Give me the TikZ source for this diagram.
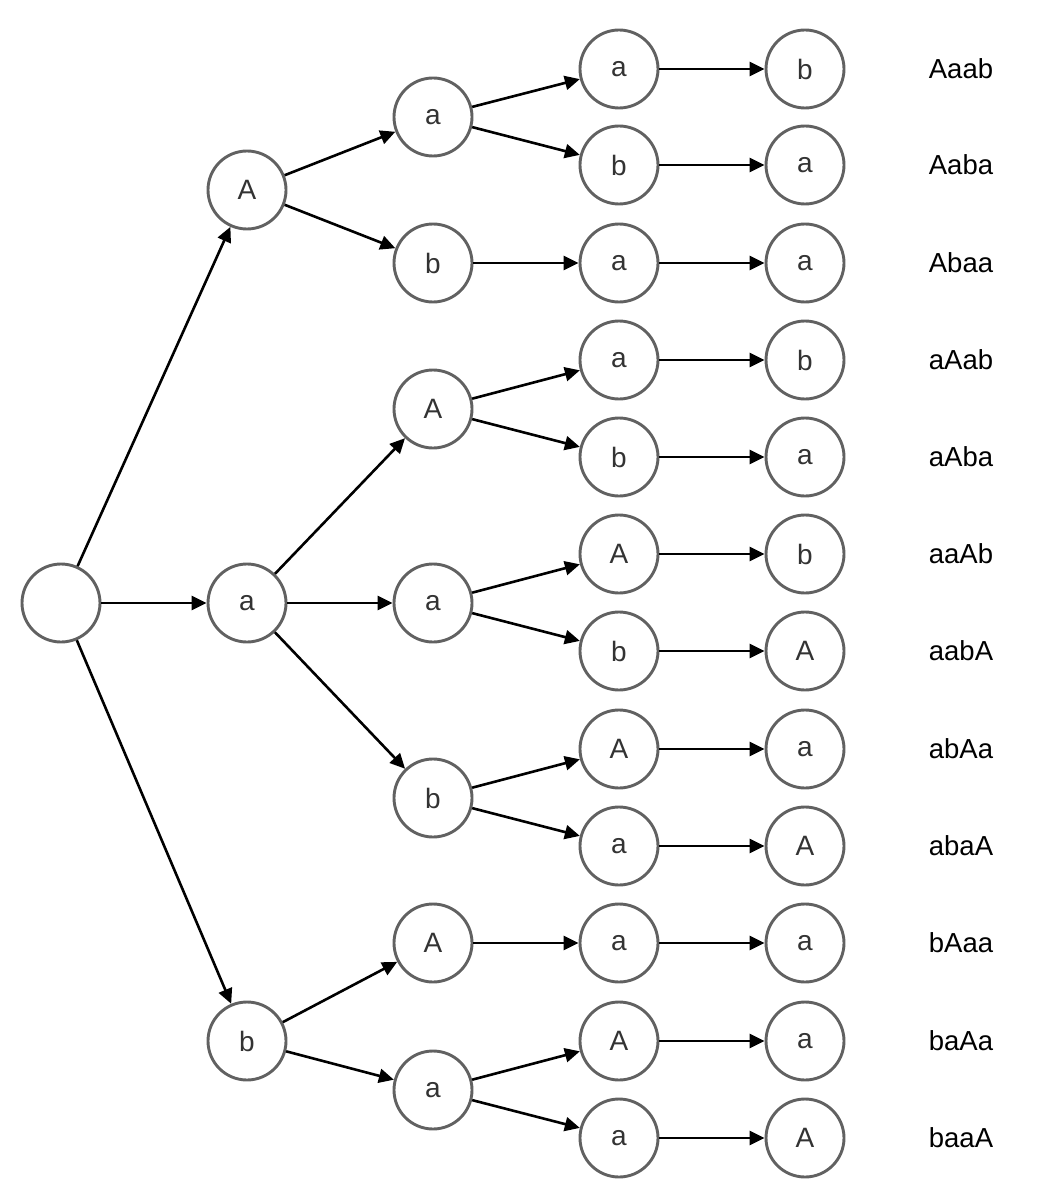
\documentclass[tikz,border=0pt]{standalone}
\usepackage{fontspec}
\setmainfont{Liberation Sans}
\usetikzlibrary{arrows.meta}
\begin{document}
\begin{tikzpicture}[x=1pt,y=-1pt,
  st/.style={circle,draw=black!62,line width=2.9pt,minimum size=78pt,inner sep=0pt,
    font=\fontsize{28}{30}\selectfont,text=black!80},
  word/.style={font=\fontsize{27.5}{30}\selectfont,anchor=center},
  edge/.style={line width=2.6pt,-{Triangle[length=15pt,width=14pt]}}]
\useasboundingbox (0,0) rectangle (1058,1190);
% root and first level
\node[st] (r) at (61,603) {};
\node[st] (A1) at (247,190) {A};
\node[st] (a1) at (247,603) {a};
\node[st] (b1) at (247,1041) {b};
% second level
\node[st] (n1) at (433,117) {a};
\node[st] (n2) at (433,263) {b};
\node[st] (n3) at (433,409) {A};
\node[st] (n4) at (433,603) {a};
\node[st] (n5) at (433,798) {b};
\node[st] (n6) at (433,943) {A};
\node[st] (n7) at (433,1090) {a};
% third and fourth levels with the resulting words
\foreach \i/\y/\p/\q/\w in {1/69/a/b/Aaab,2/165/b/a/Aaba,3/263/a/a/Abaa,4/360/a/b/aAab,
  5/457/b/a/aAba,6/554/A/b/aaAb,7/651/b/A/aabA,8/749/A/a/abAa,9/846/a/A/abaA,
  10/943/a/a/bAaa,11/1041/A/a/baAa,12/1138/a/A/baaA}{
  \node[st] (p\i) at (619,\y) {\p};
  \node[st] (q\i) at (805,\y) {\q};
  \node[word] (w\i) at (961,\y) {\w};
  \draw[edge] (p\i) -- (q\i);
}
\draw[edge] (r) -- (A1);
\draw[edge] (r) -- (a1);
\draw[edge] (r) -- (b1);
\draw[edge] (A1) -- (n1);
\draw[edge] (A1) -- (n2);
\draw[edge] (a1) -- (n3);
\draw[edge] (a1) -- (n4);
\draw[edge] (a1) -- (n5);
\draw[edge] (b1) -- (n6);
\draw[edge] (b1) -- (n7);
\draw[edge] (n1) -- (p1);
\draw[edge] (n1) -- (p2);
\draw[edge] (n2) -- (p3);
\draw[edge] (n3) -- (p4);
\draw[edge] (n3) -- (p5);
\draw[edge] (n4) -- (p6);
\draw[edge] (n4) -- (p7);
\draw[edge] (n5) -- (p8);
\draw[edge] (n5) -- (p9);
\draw[edge] (n6) -- (p10);
\draw[edge] (n7) -- (p11);
\draw[edge] (n7) -- (p12);
\end{tikzpicture}
\end{document}
